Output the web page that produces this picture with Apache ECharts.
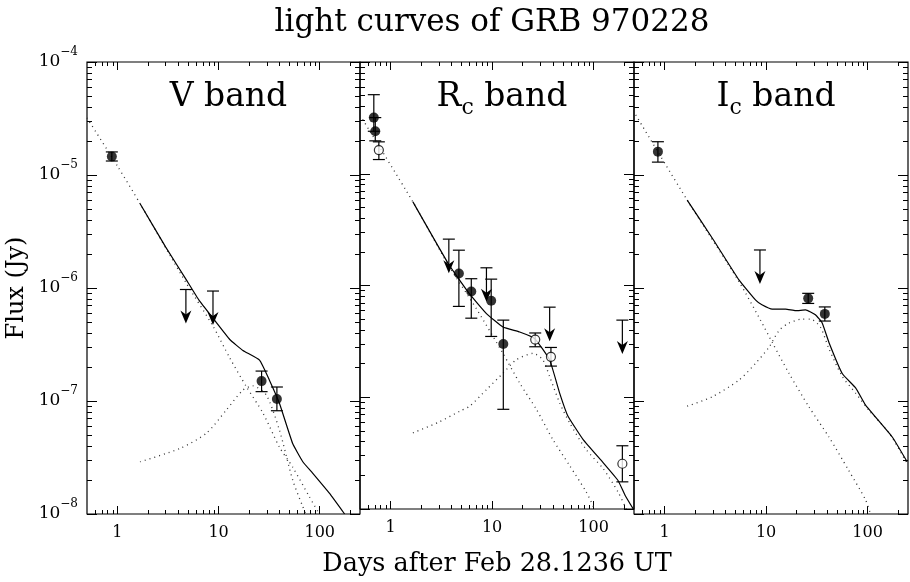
<!DOCTYPE html>
<html>
<head>
    <meta charset="utf-8">
    <title>light curves of GRB 970228</title>
    <script src="https://cdn.jsdelivr.net/npm/echarts@6/dist/echarts.min.js"></script>
    <style>
        html, body { margin: 0; padding: 0; background: #fff; }
        #main { width: 910px; height: 582px; }
    </style>
</head>
<body>
<div id="main"></div>
<script>
    // tick values
    var xMajor = [1, 10, 100];
    var xMinor = [0.6, 0.7, 0.8, 0.9, 2, 3, 4, 5, 6, 7, 8, 9, 20, 30, 40, 50, 60, 70, 80, 90, 200];
    var yMajor = [1e-8, 1e-7, 1e-6, 1e-5, 1e-4];
    var yMinor = [2e-8, 3e-8, 4e-8, 5e-8, 6e-8, 7e-8, 8e-8, 9e-8,
        2e-7, 3e-7, 4e-7, 5e-7, 6e-7, 7e-7, 8e-7, 9e-7,
        2e-6, 3e-6, 4e-6, 5e-6, 6e-6, 7e-6, 8e-6, 9e-6,
        2e-5, 3e-5, 4e-5, 5e-5, 6e-5, 7e-5, 8e-5, 9e-5];

    var bandNames = ['V band', 'R{s|c} band', 'I{s|c} band'];

    // V band  [days, flux]
    var vModel = [[1.67, 5.6e-6], [3, 2.3e-6], [4.8, 1.18e-6], [6.4, 7.8e-7], [8.8, 5.4e-7], [12.9, 3.5e-7], [17.4, 2.8e-7],
        [25.4, 2.3e-7], [31.8, 1.53e-7], [40, 9.5e-8], [54, 4.2e-8], [68, 2.9e-8], [85, 2.3e-8], [125, 1.52e-8], [176, 1e-8]];
    var vAfterglow = [[0.5, 3.2e-5], [1, 1.2e-5], [1.67, 5.6e-6], [4.8, 1.1e-6], [8.8, 4.6e-7], [12.9, 2.4e-7], [18.8, 1.34e-7],
        [27.5, 7.8e-8], [40, 3.9e-8], [54, 2.6e-8], [79, 1.42e-8], [99, 1e-8]];
    var vSupernova = [[1.67, 2.9e-8], [4.15, 3.8e-8], [7.6, 5.2e-8], [11.9, 8.3e-8], [17.4, 1.25e-7], [21.8, 1.36e-7],
        [29.6, 1.13e-7], [40, 5.5e-8], [54, 2.0e-8], [68, 1.16e-8], [73, 1e-8]];
    // [days, flux, low, high]
    var vFilled = [[0.88, 1.46e-5, 1.33e-5, 1.6e-5], [26.6, 1.5e-7, 1.21e-7, 1.84e-7], [37.7, 1.04e-7, 8.2e-8, 1.33e-7]];
    var vOpen = [];
    var vLimits = [[4.75, 9.7e-7], [8.8, 9.4e-7]];

    // Rc band
    var rModel = [[1.66, 5.6e-6], [3.75, 1.54e-6], [6.0, 8.4e-7], [8.8, 5.6e-7], [12.8, 4.25e-7], [18.7, 3.84e-7], [26.3, 3.35e-7],
        [36.9, 2.16e-7], [46.3, 1.09e-7], [55.8, 6.8e-8], [78.6, 4.2e-8], [124, 2.6e-8], [174, 1.8e-8], [204, 1.33e-8], [246, 1e-8]];
    var rAfterglow = [[0.53, 3.07e-5], [1.66, 5.6e-6], [3.75, 1.5e-6], [7.0, 6.2e-7], [12.8, 2.47e-7], [18.7, 1.34e-7],
        [27.3, 7.8e-8], [39.6, 4.2e-8], [58, 2.45e-8], [84.6, 1.42e-8], [102, 1e-8]];
    var rSupernova = [[1.66, 4.8e-8], [3, 6.0e-8], [4.8, 7.5e-8], [6, 8.3e-8], [8.8, 1.17e-7], [12.8, 1.64e-7], [17.3, 2.16e-7],
        [25.3, 2.47e-7], [31.6, 2.16e-7], [36.9, 1.53e-7], [46.3, 8.9e-8], [58, 5.9e-8], [84.6, 3.4e-8], [124, 2.3e-8],
        [174, 1.42e-8], [210, 1e-8]];
    var rFilled = [[0.684, 3.18e-5, 2.4e-5, 5.1e-5], [0.707, 2.4e-5, 1.97e-5, 3.18e-5], [4.71, 1.28e-6, 6.5e-7, 2.07e-6],
        [6.24, 8.85e-7, 5.1e-7, 1.15e-6], [9.8, 7.3e-7, 3.5e-7, 1.14e-6], [12.9, 3.0e-7, 7.8e-8, 4.9e-7]];
    var rOpen = [[0.767, 1.63e-5, 1.34e-5, 1.93e-5], [26.6, 3.28e-7, 2.83e-7, 3.76e-7], [38, 2.3e-7, 1.9e-7, 2.79e-7],
        [192, 2.54e-8, 1.75e-8, 3.68e-8]];
    var rLimits = [[3.75, 2.6e-6], [8.8, 1.44e-6], [36.9, 6.4e-7], [192, 4.9e-7]];

    // Ic band
    var iModel = [[1.67, 6.0e-6], [3, 2.7e-6], [5.4, 1.18e-6], [7.9, 7.8e-7], [9.1, 7.1e-7], [11.5, 6.5e-7], [15.6, 6.5e-7],
        [19.5, 6.3e-7], [24.5, 6.4e-7], [30.6, 5.8e-7], [35.7, 4.9e-7], [41.6, 3.3e-7], [56.5, 1.74e-7], [76.5, 1.3e-7],
        [95.5, 9.2e-8], [175, 4.8e-8], [245, 2.9e-8]];
    var iAfterglow = [[0.52, 3.4e-5], [1.67, 6.0e-6], [5.4, 1.14e-6], [8.8, 5.2e-7], [11.5, 3.3e-7], [16.8, 1.76e-7],
        [26.4, 8.9e-8], [41.6, 4.8e-8], [64.8, 2.45e-8], [95.6, 1.33e-8], [107, 1e-8]];
    var iSupernova = [[1.67, 9.0e-8], [2.95, 1.09e-7], [5.4, 1.53e-7], [7.9, 2.16e-7], [10.7, 3.0e-7], [13.4, 4.2e-7],
        [16.8, 4.9e-7], [22.6, 5.3e-7], [27.4, 5.3e-7], [34.3, 4.5e-7], [41.6, 2.9e-7], [56.5, 1.64e-7], [76.5, 1.17e-7],
        [103, 8.3e-8], [163, 5.2e-8], [245, 2.8e-8]];
    var iFilled = [[0.86, 1.61e-5, 1.3e-5, 1.97e-5], [26, 8.1e-7, 7.3e-7, 8.97e-7], [37.9, 5.9e-7, 5.1e-7, 6.8e-7]];
    var iOpen = [];
    var iLimits = [[8.7, 2.17e-6]];

    var panels = [
        { model: vModel, ag: vAfterglow, sn: vSupernova, filled: vFilled, open: vOpen, limits: vLimits },
        { model: rModel, ag: rAfterglow, sn: rSupernova, filled: rFilled, open: rOpen, limits: rLimits },
        { model: iModel, ag: iAfterglow, sn: iSupernova, filled: iFilled, open: iOpen, limits: iLimits }
    ];

    var FONT = 'DejaVu Serif';
    var boxes = [{ left: 87, width: 273 }, { left: 360, width: 274 }, { left: 634, width: 274 }];
    var TOP = 62, HEIGHT = 452;

    var myChart = echarts.init(document.getElementById('main'));

    function xAxis(g, pos, vals, len, withLabel) {
        var ax = {
            gridIndex: g, type: 'log', logBase: 10, min: 0.5, max: 250, position: pos,
            axisLine: { show: false }, splitLine: { show: false },
            axisTick: { show: true, inside: true, length: len, customValues: vals, lineStyle: { color: '#000', width: 1 } },
            axisLabel: { show: false }
        };
        if (withLabel) {
            ax.axisLabel = {
                show: true, customValues: xMajor, margin: 11, color: '#000', fontFamily: FONT, fontSize: 16,
                formatter: function (v) { return String(Math.round(v)); }
            };
        }
        return ax;
    }

    function yAxis(g, pos, vals, len, withLabel) {
        var ax = {
            gridIndex: g, type: 'log', logBase: 10, min: 1e-8, max: 1e-4, position: pos,
            axisLine: { show: false }, splitLine: { show: false },
            axisTick: { show: true, inside: true, length: len, customValues: vals, lineStyle: { color: '#000', width: 1 } },
            axisLabel: { show: false }
        };
        if (withLabel) {
            ax.axisLabel = {
                show: true, customValues: yMajor, margin: 9,
                formatter: function (v) {
                    var e = Math.round(Math.log(v) / Math.LN10);
                    return '{b|10}{s|\u2212' + (-e) + '}';
                },
                rich: {
                    b: { fontFamily: FONT, fontSize: 17, lineHeight: 32, color: '#000' },
                    s: { fontFamily: FONT, fontSize: 12, lineHeight: 14, verticalAlign: 'top', color: '#000' }
                }
            };
        }
        return ax;
    }

    var grids = [], xAxes = [], yAxes = [], series = [], titles = [];

    titles.push({
        text: 'light curves of GRB 970228', left: 487, top: 2, textAlign: 'center',
        textStyle: { fontFamily: FONT, fontSize: 31, fontWeight: 'normal', color: '#000' }
    });

    for (var g = 0; g < 3; g++) {
        grids.push({
            left: boxes[g].left, width: boxes[g].width, top: TOP, height: HEIGHT,
            show: true, borderColor: '#000', borderWidth: 1.2, backgroundColor: 'transparent'
        });
        xAxes.push(xAxis(g, 'bottom', xMajor, 8, true));
        xAxes.push(xAxis(g, 'bottom', xMinor, 4, false));
        xAxes.push(xAxis(g, 'top', xMajor, 8, false));
        xAxes.push(xAxis(g, 'top', xMinor, 4, false));
        yAxes.push(yAxis(g, 'left', yMajor, 10, g === 0));
        yAxes.push(yAxis(g, 'left', yMinor, 5, false));
        yAxes.push(yAxis(g, 'right', yMajor, 10, false));
        yAxes.push(yAxis(g, 'right', yMinor, 5, false));

        titles.push({
            text: bandNames[g], left: boxes[g].left + boxes[g].width / 2, top: 70, textAlign: 'center',
            textStyle: {
                fontFamily: FONT, fontSize: 33, fontWeight: 'normal', color: '#000', lineHeight: 44,
                rich: { s: { fontFamily: FONT, fontSize: 22, lineHeight: 22, verticalAlign: 'bottom', color: '#000' } }
            }
        });

        var p = panels[g];
        var xi = 4 * g, yi = 4 * g;
        series.push(lineSeries(xi, yi, p.ag, true));
        series.push(lineSeries(xi, yi, p.sn, true));
        series.push(lineSeries(xi, yi, p.model, false));
        series.push(errSeries(xi, yi, p.filled.concat(p.open)));
        series.push(limitSeries(xi, yi, p.limits));
        series.push(pointSeries(xi, yi, p.filled, true));
        series.push(pointSeries(xi, yi, p.open, false));
    }

    // y axis title on first panel, x axis title under middle panel
    yAxes[0].name = 'Flux (Jy)';
    yAxes[0].nameLocation = 'middle';
    yAxes[0].nameGap = 58;
    yAxes[0].nameRotate = 90;
    yAxes[0].nameTextStyle = { fontFamily: FONT, fontSize: 24, color: '#000' };
    xAxes[4].name = 'Days after Feb 28.1236 UT';
    xAxes[4].nameLocation = 'middle';
    xAxes[4].nameGap = 42;
    xAxes[4].nameTextStyle = { fontFamily: FONT, fontSize: 25.5, color: '#000' };

    function lineSeries(xi, yi, data, dotted) {
        return {
            type: 'line', xAxisIndex: xi, yAxisIndex: yi, data: data, showSymbol: false, symbol: 'none',
            smooth: dotted ? 0.25 : 0.12, silent: true, z: 2, animation: false,
            lineStyle: dotted ? { color: '#333', width: 1.3, type: [1, 4] } : { color: '#000', width: 1.2, type: 'solid' }
        };
    }

    function errSeries(xi, yi, data) {
        return {
            type: 'custom', xAxisIndex: xi, yAxisIndex: yi, data: data, silent: true, z: 3, animation: false,
            encode: { x: 0, y: [1, 2, 3] },
            renderItem: function (params, api) {
                var hi = api.coord([api.value(0), api.value(3)]);
                var lo = api.coord([api.value(0), api.value(2)]);
                var st = { stroke: '#000', lineWidth: 1.2 };
                return {
                    type: 'group', children: [
                        { type: 'line', shape: { x1: hi[0], y1: hi[1], x2: lo[0], y2: lo[1] }, style: st },
                        { type: 'line', shape: { x1: hi[0] - 6, y1: hi[1], x2: hi[0] + 6, y2: hi[1] }, style: st },
                        { type: 'line', shape: { x1: lo[0] - 6, y1: lo[1], x2: lo[0] + 6, y2: lo[1] }, style: st }
                    ]
                };
            }
        };
    }

    function limitSeries(xi, yi, data) {
        return {
            type: 'custom', xAxisIndex: xi, yAxisIndex: yi, data: data, silent: true, z: 3, animation: false,
            encode: { x: 0, y: 1 },
            renderItem: function (params, api) {
                var c = api.coord([api.value(0), api.value(1)]);
                var x = c[0], y = c[1], tip = y + 34;
                var st = { stroke: '#000', lineWidth: 1.2 };
                return {
                    type: 'group', children: [
                        { type: 'line', shape: { x1: x - 6, y1: y, x2: x + 6, y2: y }, style: st },
                        { type: 'line', shape: { x1: x, y1: y, x2: x, y2: tip - 6 }, style: st },
                        {
                            type: 'polygon',
                            shape: { points: [[x, tip], [x - 5.5, tip - 13], [x, tip - 9], [x + 5.5, tip - 13]] },
                            style: { fill: '#000' }
                        }
                    ]
                };
            }
        };
    }

    function pointSeries(xi, yi, data, filled) {
        return {
            type: 'scatter', xAxisIndex: xi, yAxisIndex: yi, silent: true, z: 4, animation: false,
            data: data.map(function (d) { return [d[0], d[1]]; }),
            symbol: 'circle', symbolSize: filled ? 10 : 9,
            itemStyle: filled ? { color: '#000' } : { color: '#fff', borderColor: '#000', borderWidth: 1.2 }
        };
    }

    myChart.setOption({
        backgroundColor: '#fff',
        animation: false,
        title: titles,
        grid: grids,
        xAxis: xAxes,
        yAxis: yAxes,
        series: series
    });
</script>
</body>
</html>
